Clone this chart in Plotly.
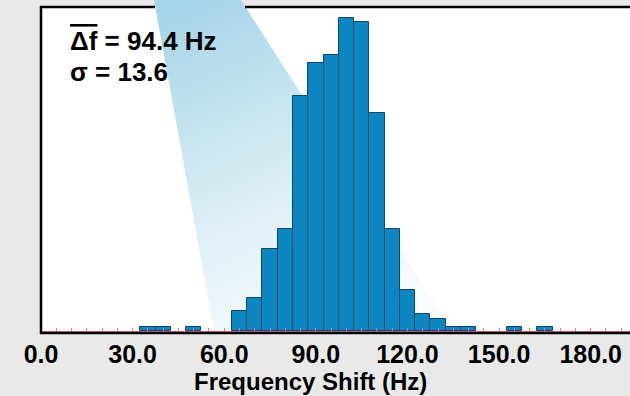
import base64
import plotly.graph_objects as go

# ---- data ----
bin_centers = [35, 40, 50, 65, 70, 75, 80, 85, 90, 95, 100, 105, 110, 115, 120, 125, 130, 135, 140, 155, 165]
counts      = [1, 1, 1, 4.7, 7.6, 19, 23.8, 54.7, 62.3, 64.3, 72.9, 71.9, 50.6, 23.8, 9.5, 3.9, 2.8, 1, 1, 1, 1]
bin_width = 5
tick_vals = [0, 30, 60, 90, 120, 150, 180]
tick_text = ["0.0", "30.0", "60.0", "90.0", "120.0", "150.0", "180.0"]
mean_text = "94.4 Hz"
sigma_text = "13.6"
x_title = "Frequency Shift (Hz)"

# ---- layout geometry (pixels) ----
W, H = 630, 396
L, R_EDGE, T, B = 41, 630, 7, 331
PW, PH = R_EDGE - L, B - T

def px(x):
    return (x - L) / PW

def py(y):
    return (B - y) / PH

BG = "rgb(233,233,233)"
FONT = "Liberation Sans, Arial, sans-serif"
PINK = "rgb(226,120,135)"

# decorative light beam, as an inline SVG gradient image
bx0, by0, bx1, by1 = 154, 0, 453, 331
svg = f'''<svg xmlns="http://www.w3.org/2000/svg" width="{bx1-bx0}" height="{by1-by0}" viewBox="0 0 {bx1-bx0} {by1-by0}" preserveAspectRatio="none">
<defs><linearGradient id="g" x1="0.2" y1="0" x2="0.6" y2="1">
<stop offset="0" stop-color="#a8d6e9"/>
<stop offset="0.3" stop-color="#c4e3ef"/>
<stop offset="0.65" stop-color="#e3f1f7"/>
<stop offset="1" stop-color="#f9fcfd"/>
</linearGradient></defs>
<polygon points="0,0 87,0 299,331 60,331" fill="url(#g)"/>
</svg>'''
svg_uri = "data:image/svg+xml;base64," + base64.b64encode(svg.encode()).decode()

fig = go.Figure()
fig.add_trace(go.Bar(
    x=bin_centers, y=counts, width=bin_width,
    marker=dict(color="rgb(12,134,192)", line=dict(color="rgb(18,70,110)", width=1)),
    hoverinfo="skip",
))

shapes = [
    # top border (split where the beam crosses it)
    dict(type="line", xref="paper", yref="paper", x0=px(40), x1=px(155), y0=1, y1=1,
         line=dict(color="black", width=2.5), layer="below"),
    dict(type="line", xref="paper", yref="paper", x0=px(245), x1=1, y0=1, y1=1,
         line=dict(color="black", width=2.5), layer="below"),
    # left border
    dict(type="line", xref="paper", yref="paper", x0=0, x1=0, y0=py(334), y1=py(6),
         line=dict(color="black", width=2.5), layer="above"),
    # bottom black base line
    dict(type="line", xref="paper", yref="paper", x0=px(40), x1=1, y0=py(333), y1=py(333),
         line=dict(color="black", width=2.5), layer="above"),
]

bold = dict(family=FONT, size=26, color="black", weight="bold")
annotations = [
    dict(xref="paper", yref="paper", x=px(68), y=py(40.5), xanchor="left", yanchor="middle",
         text='<span style="text-decoration:overline">Δf</span> = ' + mean_text,
         showarrow=False, font=bold),
    dict(xref="paper", yref="paper", x=px(68), y=py(71.5), xanchor="left", yanchor="middle",
         text="σ = " + sigma_text, showarrow=False, font=bold),
    dict(xref="paper", yref="paper", x=px(310), y=py(381), xanchor="center", yanchor="middle",
         text=x_title, showarrow=False, font=dict(family=FONT, size=24, color="black", weight="bold")),
]

fig.update_layout(
    width=W, height=H,
    margin=dict(l=L, r=W - R_EDGE, t=T, b=H - B, pad=0),
    paper_bgcolor=BG, plot_bgcolor="white",
    showlegend=False, bargap=0,
    shapes=shapes, annotations=annotations,
    images=[dict(source=svg_uri, xref="paper", yref="paper",
                 x=px(bx0), y=py(by0), sizex=(bx1 - bx0) / PW, sizey=(by1 - by0) / PH,
                 xanchor="left", yanchor="top", sizing="stretch", layer="below")],
    xaxis=dict(range=[0, PW / 3.054], tickvals=tick_vals, ticktext=tick_text,
               showgrid=False, zeroline=False, showline=True, linecolor=PINK, linewidth=1,
               ticks="inside", ticklen=3, tickcolor=PINK, tickwidth=1,
               minor=dict(dtick=5, tick0=0, ticks="inside", ticklen=3, tickcolor=PINK, tickwidth=1, showgrid=False),
               tickfont=dict(family=FONT, size=25, color="black", weight="bold"),
               ticklabelstandoff=1),
    yaxis=dict(range=[0, PH / 4.3], visible=False, showgrid=False, zeroline=False),
)

fig.write_html("out.html")
